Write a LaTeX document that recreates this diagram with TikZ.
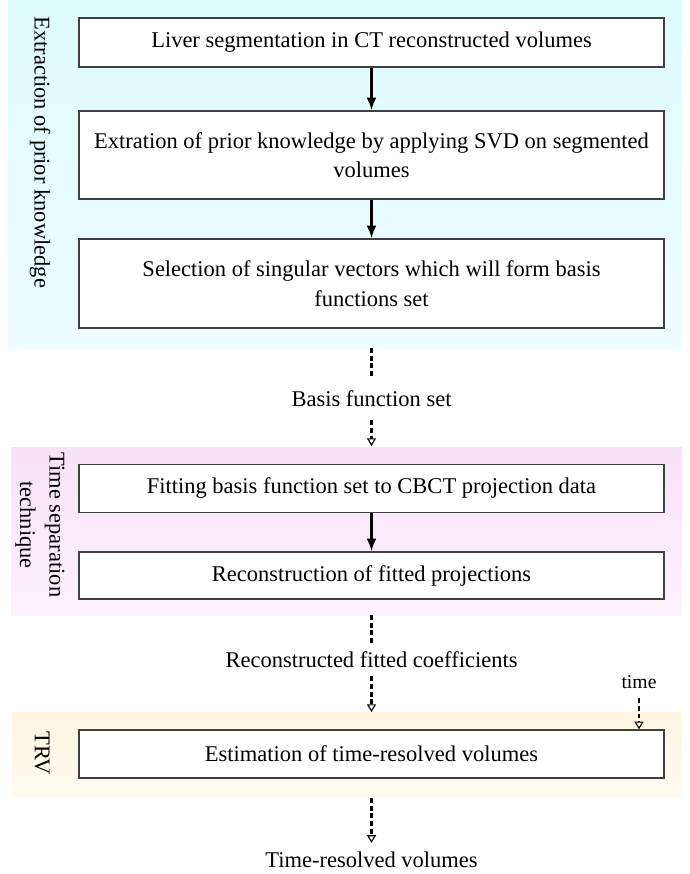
\documentclass[tikz,border=0pt]{standalone}
\usepackage{fontspec}
\setmainfont{Liberation Serif}
\usetikzlibrary{arrows.meta}

\definecolor{lanecyan}{RGB}{222,251,254}
\definecolor{lanecyanlight}{RGB}{238,253,255}
\definecolor{lanepink}{RGB}{248,226,248}
\definecolor{lanepinklight}{RGB}{253,242,252}
\definecolor{laneyellow}{RGB}{255,245,225}
\definecolor{laneyellowlight}{RGB}{255,251,242}

\begin{document}
\begin{tikzpicture}[x=0.025cm, y=-0.025cm,
    every node/.style={font=\fontsize{16}{21}\selectfont},
    stepbox/.style={draw=black!75, line width=1pt, fill=white, minimum width=14.625cm, align=center, inner sep=0pt},
    flow/.style={-{Latex[length=9pt,width=7pt]}, line width=1.6pt},
    dashline/.style={line width=1.5pt, dash pattern=on 3.5pt off 2pt},
    dashflow/.style={dashline, -{Triangle[open,length=5.5pt,width=6.5pt,line width=0.8pt]}},
    lanetext/.style={rotate=-90, inner sep=0pt, align=center}]

    \useasboundingbox (0,0) rectangle (690,874);

    % swim lanes
    \shade[top color=lanecyan, bottom color=lanecyanlight] (8,0) rectangle (682,348);
    \shade[top color=lanepink, bottom color=lanepinklight] (11,447) rectangle (682,615);
    \shade[top color=laneyellow, bottom color=laneyellowlight] (12,712) rectangle (682,797);

    \node[lanetext, anchor=west] (lanea) at (40,16) {Extraction of prior knowledge};
    \node[lanetext] (laneb) at (40,525) {Time separation\\technique};
    \node[lanetext] (lanec) at (42,753) {TRV};

    \coordinate (laneaend) at (371.5,348);
    \coordinate (lanebtop) at (371.5,446);
    \coordinate (lanebend) at (371.5,615);
    \coordinate (lancetop) at (371.5,712);
    \coordinate (lanecend) at (371.5,798);

    % steps
    \node[stepbox, minimum height=1.225cm] (liver) at (371.5,42.5) {Liver segmentation in CT reconstructed volumes};
    \node[stepbox, minimum height=2.2cm] (prior) at (371.5,155) {Extration of prior knowledge by applying SVD on segmented\\volumes};
    \node[stepbox, minimum height=2.225cm] (select) at (371.5,283.5) {Selection of singular vectors which will form basis\\functions set};
    \node[stepbox, minimum height=1.2cm] (fit) at (371.5,488.5) {Fitting basis function set to CBCT projection data};
    \node[stepbox, minimum height=1.175cm] (recon) at (371.5,575.5) {Reconstruction of fitted projections};
    \node[stepbox, minimum height=1.2cm] (estim) at (371.5,754) {Estimation of time-resolved volumes};

    % data in between
    \node[inner sep=9.5pt] (basis) at (371.5,398.5) {Basis function set};
    \node[inner sep=6pt] (coeff) at (371.5,659.5) {Reconstructed fitted coefficients};
    \node[inner sep=6.5pt, font=\fontsize{14}{17}\selectfont] (time) at (639,682) {time};
    \node[inner sep=6pt] (volumes) at (371.5,859.5) {Time-resolved volumes};

    \draw[flow] (liver) -- (prior);
    \draw[flow] (prior) -- (select);
    \draw[flow] (fit) -- (recon);

    \draw[dashline] (laneaend) -- (basis);
    \draw[dashflow] (basis) -- (lanebtop);
    \draw[dashline] (lanebend) -- (coeff);
    \draw[dashflow] (coeff) -- (lancetop);
    \draw[dashflow] (time) -- (time |- estim.north);
    \draw[dashflow] (lanecend) -- (volumes);
\end{tikzpicture}
\end{document}
